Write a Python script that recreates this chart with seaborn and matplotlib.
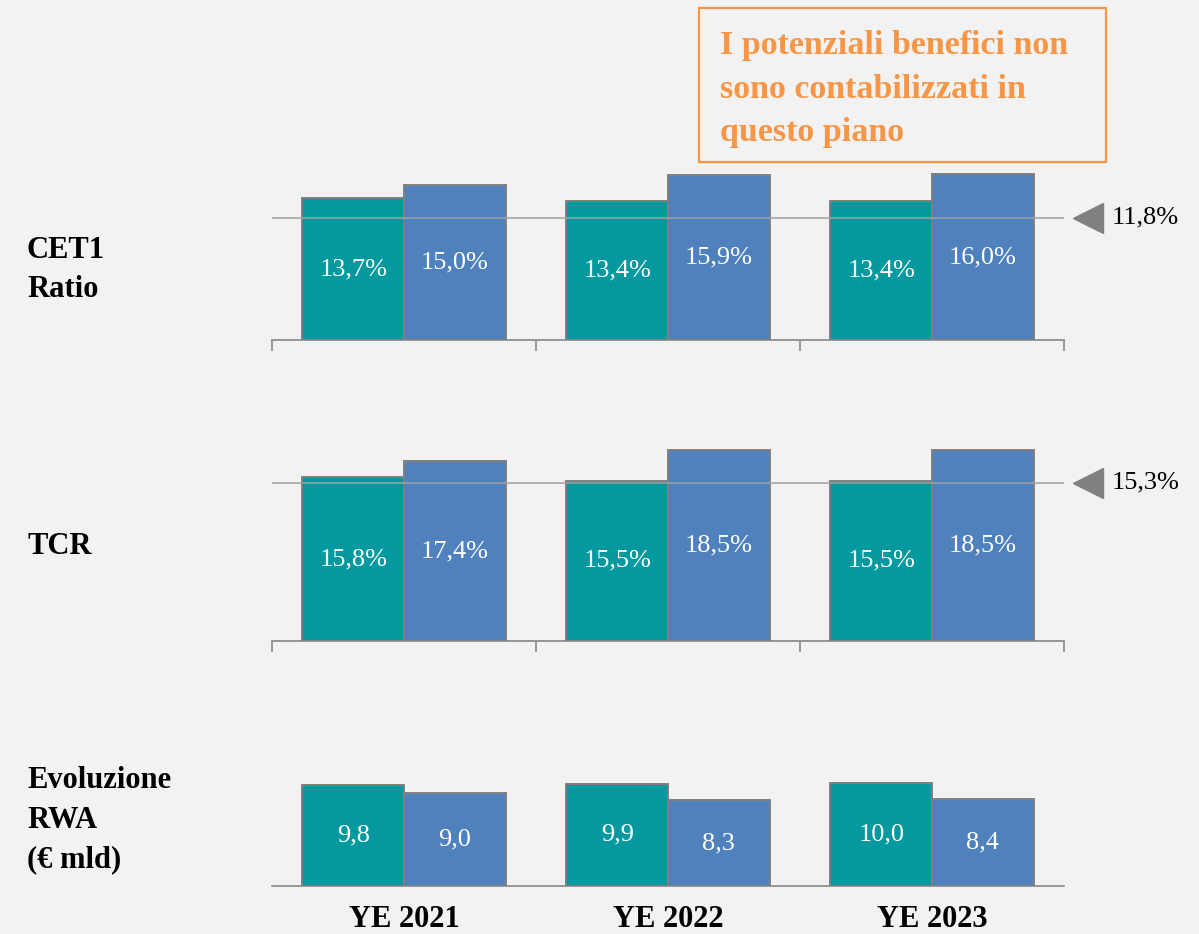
import numpy as np
import pandas as pd
import matplotlib
matplotlib.use("Agg")
import matplotlib.pyplot as plt
import seaborn as sns
from matplotlib.patches import Rectangle
from matplotlib import transforms

# ---- data ----
anni = ["YE 2021", "YE 2022", "YE 2023"]
serie = ["Base", "Piano"]
cet1_base = [13.7, 13.4, 13.4]
cet1_piano = [15.0, 15.9, 16.0]
tcr_base = [15.8, 15.5, 15.5]
tcr_piano = [17.4, 18.5, 18.5]
rwa_base = [9.8, 9.9, 10.0]
rwa_piano = [9.0, 8.3, 8.4]
soglia_cet1 = 11.8
soglia_tcr = 15.3

# ---- style ----
BG = "#F2F2F2"
TEAL = "#03999E"
BLUE = "#4F81BD"
EDGE = "#7F7F7F"
ORANGE = "#F79646"

sns.set_theme(style="white")
plt.rcParams["font.family"] = ["Liberation Serif", "DejaVu Serif"]
plt.rcParams["figure.facecolor"] = BG
plt.rcParams["axes.facecolor"] = BG

W, H = 1199, 934
fig = plt.figure(figsize=(W / 100, H / 100), dpi=100)
PX_PER_UNIT = 10.35
X_LEFT, X_RIGHT = 272, 1064


def make_axes(bottom_px, ymax):
    top_px = bottom_px - ymax * PX_PER_UNIT
    return fig.add_axes([X_LEFT / W, 1 - bottom_px / H,
                         (X_RIGHT - X_LEFT) / W, (bottom_px - top_px) / H])


def fmt(v, pct):
    s = f"{v:.1f}".replace(".", ",")
    return s + "%" if pct else s


def panel(ax, base, piano, ymax, pct, soglia=None, show_labels=False, ticks=True):
    df = pd.DataFrame({
        "anno": anni * 2,
        "serie": [serie[0]] * 3 + [serie[1]] * 3,
        "valore": list(base) + list(piano),
    })
    sns.barplot(data=df, x="anno", y="valore", hue="serie", order=anni,
                hue_order=serie, palette=[TEAL, BLUE], width=0.77,
                edgecolor=EDGE, linewidth=1.4, saturation=1, legend=False,
                errorbar=None, ax=ax)
    for cont, vals in zip(ax.containers, [base, piano]):
        ax.bar_label(cont, labels=[fmt(v, pct) for v in vals],
                     label_type="center", color="white", fontsize=19)
    ax.set_xlim(-0.5, 2.5)
    ax.set_ylim(0, ymax)
    ax.set_xlabel("")
    ax.set_ylabel("")
    ax.set_yticks([])
    for side in ["top", "left", "right"]:
        ax.spines[side].set_visible(False)
    ax.spines["bottom"].set_color(EDGE)
    ax.spines["bottom"].set_linewidth(1.1)
    ax.patch.set_alpha(0)
    if show_labels:
        ax.set_xticks(range(len(anni)))
        ax.set_xticklabels(anni, fontsize=22, fontweight="bold", color="black")
        ax.tick_params(axis="x", length=0, pad=14)
    else:
        ax.set_xticks([])
    if ticks:
        ax.set_xticks([-0.5, 0.5, 1.5, 2.5], minor=True)
        ax.tick_params(axis="x", which="minor", length=8, width=1.1,
                       color=EDGE, bottom=True, direction="out")
    if soglia is not None:
        ax.axhline(soglia, color="#A0A0A0", lw=1.1, zorder=5)
        tr = transforms.blended_transform_factory(ax.transAxes, ax.transData)
        ax.plot([1.0303], [soglia], marker="<", markersize=21, color="#808080",
                transform=tr, clip_on=False, zorder=6)
        ax.text(1.0606, soglia, fmt(soglia, True), transform=tr, ha="left",
                va="center", fontsize=19, color="black")


ax1 = make_axes(340, 17)
panel(ax1, cet1_base, cet1_piano, 17, True, soglia_cet1)

ax2 = make_axes(641, 19)
panel(ax2, tcr_base, tcr_piano, 19, True, soglia_tcr)

ax3 = make_axes(886, 10.5)
panel(ax3, rwa_base, rwa_piano, 10.5, False, show_labels=True, ticks=False)

# row titles
for txt, yc in [("CET1\nRatio", 270), ("TCR", 546), ("Evoluzione\nRWA\n(€ mld)", 820)]:
    fig.text(27 / W, 1 - yc / H, txt, ha="left", va="center", fontsize=22,
             fontweight="bold", color="black", linespacing=1.47)

# note box
fig.patches.append(Rectangle((699 / W, 1 - 162 / H), (1106 - 699) / W, (162 - 8) / H,
                             transform=fig.transFigure, facecolor="none",
                             edgecolor=ORANGE, linewidth=1.6))
fig.text(720 / W, 1 - 89 / H,
         "I potenziali benefici non\nsono contabilizzati in\nquesto piano",
         ha="left", va="center", fontsize=24.5, fontweight="bold", color=ORANGE,
         linespacing=1.52)

fig.savefig("out.png", dpi=100, facecolor=BG)
